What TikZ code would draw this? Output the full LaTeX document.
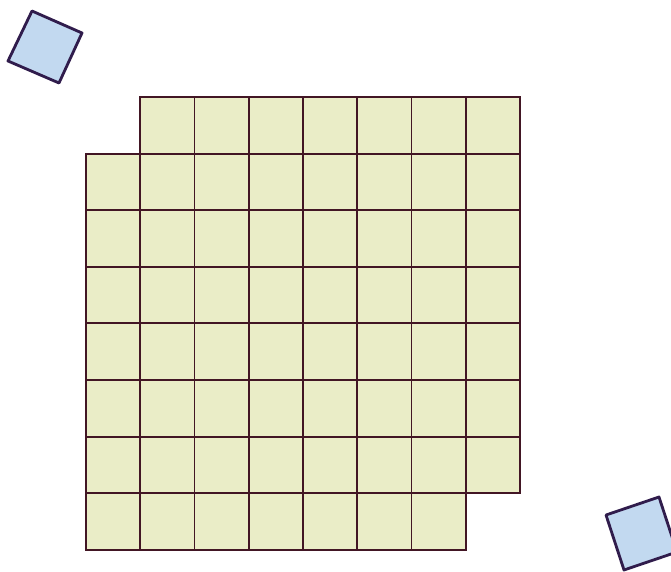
\documentclass[tikz,border=0pt]{standalone}
\usepackage{tikz}
\usetikzlibrary{calc}
\definecolor{CellYellow}{RGB}{234,237,199}
\definecolor{GridBrown}{RGB}{66,22,36}
\definecolor{TileBlue}{RGB}{194,217,240}
\definecolor{TileEdge}{RGB}{48,28,76}
\tikzset{
    cell/.style={fill=CellYellow,draw=GridBrown,line width=1.6pt},
    tile/.style={fill=TileBlue,draw=TileEdge,line width=2.4pt,line join=round}
}
\newcommand{\looseTile}[4]{%
    \draw[tile] #1--#2--#3--#4--cycle;
}

\begin{document}
\begin{tikzpicture}[x=0.03cm,y=-0.03cm]
            \useasboundingbox (0,0) rectangle (671,572);
            \clip (0,0) rectangle (671,572);
            % board of 8x8 cells, two opposite corners cut away
            \foreach \c in {0,...,7}{
                \foreach \r in {0,...,7}{
                    \pgfmathtruncatemacro{\cutcell}{(\c==0 && \r==0) || (\c==7 && \r==7)}
                    \ifnum\cutcell=0
                        \draw[cell] ({86+54.25*\c},{97+56.6*\r}) rectangle ++(54.25,56.6);
                    \fi
                }
            }
            % the two removed cells
            \looseTile{(32,11)}{(82,33)}{(59,83)}{(8,61)}
            \looseTile{(606,515)}{(659,497)}{(677,552)}{(624,570)}
        \end{tikzpicture}
\end{document}
